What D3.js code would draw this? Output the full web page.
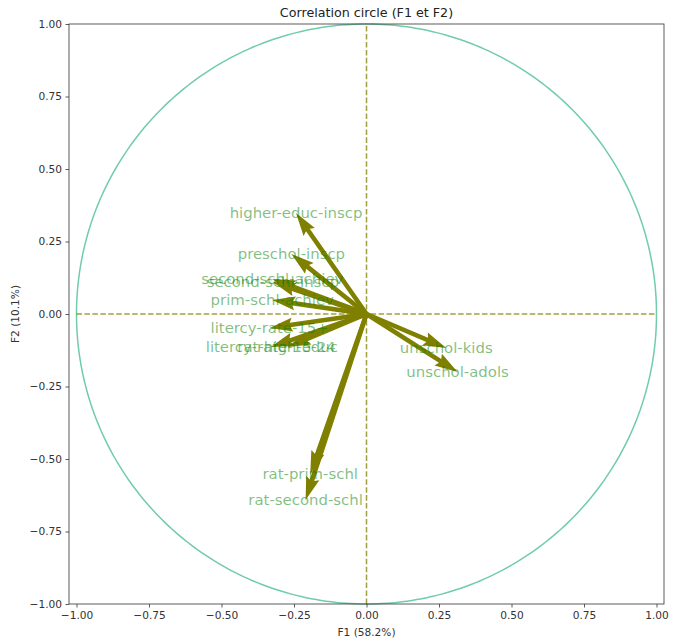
<!DOCTYPE html>
<html>
<head>
<meta charset="utf-8">
<script src="https://cdn.jsdelivr.net/npm/d3@7"></script>
<style>
  html, body { margin: 0; padding: 0; background: #fff; }
  svg { display: block; font-family: "DejaVu Sans", sans-serif; }
</style>
</head>
<body>
<svg id="chart" width="683" height="642"></svg>
<script>
// Variable loadings on the first two factorial axes
const variables = [
  "higher-educ-inscp", "preschol-inscp", "second-schl-achiev", "second-schl-inscp",
  "prim-schl-achiev", "litercy-rate-15+", "litercy-rate-15-24", "rat-high-educ",
  "unschol-kids", "unschol-adols", "rat-prim-schl", "rat-second-schl"
];
const f1 = [-0.243, -0.259, -0.325, -0.323, -0.325, -0.334, -0.330, -0.272, 0.275, 0.314, -0.194, -0.210];
const f2 = [ 0.348,  0.207,  0.121,  0.110,  0.048, -0.048, -0.114, -0.114, -0.117, -0.200, -0.552, -0.641];
const tickValues = [-1, -0.75, -0.5, -0.25, 0, 0.25, 0.5, 0.75, 1];
const titleText = "Correlation circle (F1 et F2)";
const xLabel = "F1 (58.2%)";
const yLabel = "F2 (10.1%)";

const svg = d3.select("#chart");
const plotLeft = 69, plotRight = 664, plotTop = 24, plotBottom = 604;
const xHalf = (plotRight - plotLeft) / (plotBottom - plotTop); // equal aspect, x limits stretched

const x = d3.scaleLinear().domain([-xHalf, xHalf]).range([plotLeft, plotRight]);
const y = d3.scaleLinear().domain([-1, 1]).range([plotBottom, plotTop]);

// unit circle
const circlePts = d3.range(0, 361).map(a => [Math.cos(a * Math.PI / 180), Math.sin(a * Math.PI / 180)]);
svg.append("path")
  .attr("d", d3.line().x(d => x(d[0])).y(d => y(d[1]))(circlePts))
  .attr("fill", "none").attr("stroke", "#70ccaa").attr("stroke-width", 1.5);

// dashed axes through the origin
const dash = "5.55,2.4";
svg.append("line")
  .attr("x1", x(-1)).attr("x2", x(1)).attr("y1", y(0)).attr("y2", y(0))
  .attr("stroke", "#808000").attr("stroke-opacity", 0.75).attr("stroke-width", 1.5)
  .attr("stroke-dasharray", dash);
svg.append("line")
  .attr("x1", x(0)).attr("x2", x(0)).attr("y1", y(-1)).attr("y2", y(1))
  .attr("stroke", "#808000").attr("stroke-opacity", 0.75).attr("stroke-width", 1.5)
  .attr("stroke-dasharray", dash);

// quiver-style arrows (shaft width w, barbed head)
const w = 4.6, hw = 3, hl = 5, hal = 4.5;
const data = variables.map((v, i) => ({ name: v, a: f1[i], b: f2[i] }));
svg.append("g").selectAll("path").data(data).join("path")
  .attr("d", d => {
    const x0 = x(0), y0 = y(0), x1 = x(d.a), y1 = y(d.b);
    const L = Math.hypot(x1 - x0, y1 - y0);
    const ux = (x1 - x0) / L, uy = (y1 - y0) / L;
    const px = -uy, py = ux;
    const pts = [
      [0, 0.5 * w], [L - hal * w, 0.5 * w], [L - hl * w, 0.5 * hw * w], [L, 0],
      [L - hl * w, -0.5 * hw * w], [L - hal * w, -0.5 * w], [0, -0.5 * w]
    ].map(([s, t]) => [x0 + ux * s + px * t, y0 + uy * s + py * t]);
    return "M" + pts.map(p => p.join(",")).join("L") + "Z";
  })
  .attr("fill", "#808000");

// variable labels centred on arrow tips
svg.append("g").selectAll("text").data(data).join("text")
  .attr("x", d => x(d.a)).attr("y", d => y(d.b))
  .attr("text-anchor", "middle").attr("dominant-baseline", "central")
  .attr("font-size", 14.9).attr("fill", "#008000").attr("fill-opacity", 0.5)
  .text(d => d.name);

// axes
const fmt = d3.format(".2f");
const fmtTick = v => fmt(v).replace("-", "\u2212");
const xAxis = svg.append("g").attr("transform", `translate(0,${plotBottom})`)
  .call(d3.axisBottom(x).tickValues(tickValues).tickFormat(fmtTick).tickSize(3.5).tickPadding(3.5));
const yAxis = svg.append("g").attr("transform", `translate(${plotLeft},0)`)
  .call(d3.axisLeft(y).tickValues(tickValues).tickFormat(fmtTick).tickSize(3.5).tickPadding(3.5));
[xAxis, yAxis].forEach(g => {
  g.select(".domain").remove();
  g.selectAll(".tick line").attr("stroke", "#333").attr("stroke-width", 0.8);
  g.selectAll(".tick text").attr("fill", "#333").attr("font-size", 10.6)
    .attr("font-family", "DejaVu Sans, sans-serif");
});

// frame
svg.append("rect")
  .attr("x", plotLeft).attr("y", plotTop).attr("width", plotRight - plotLeft).attr("height", plotBottom - plotTop)
  .attr("fill", "none").attr("stroke", "#333").attr("stroke-width", 0.8);

// titles
svg.append("text").attr("x", (plotLeft + plotRight) / 2).attr("y", 17)
  .attr("text-anchor", "middle").attr("font-size", 12.7).attr("fill", "#222").text(titleText);
svg.append("text").attr("x", (plotLeft + plotRight) / 2).attr("y", 636)
  .attr("text-anchor", "middle").attr("font-size", 10.6).attr("fill", "#333").text(xLabel);
svg.append("text").attr("transform", `translate(19,${(plotTop + plotBottom) / 2}) rotate(-90)`)
  .attr("text-anchor", "middle").attr("font-size", 10.6).attr("fill", "#333").text(yLabel);
</script>
</body>
</html>
